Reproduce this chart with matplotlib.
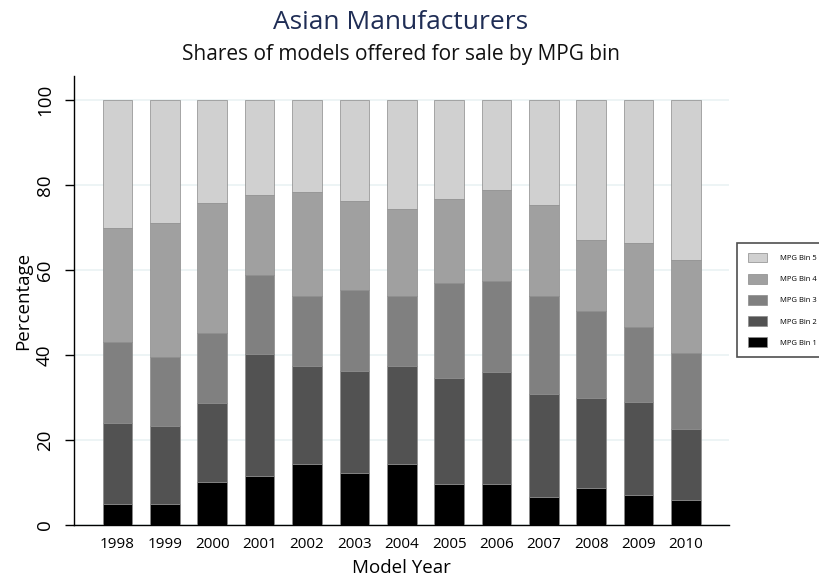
import matplotlib
matplotlib.use("Agg")
import matplotlib.pyplot as plt
import numpy as np

years = [1998, 1999, 2000, 2001, 2002, 2003, 2004, 2005, 2006, 2007, 2008, 2009, 2010]
bin1 = [4.9, 5.0, 10.2, 11.6, 14.4, 12.2, 14.4, 9.6, 9.6, 6.6, 8.8, 7.1, 5.9]
bin2 = [19.2, 18.4, 18.6, 28.6, 23.0, 24.1, 23.0, 25.1, 26.4, 24.2, 21.1, 21.9, 16.6]
bin3 = [19.0, 16.2, 16.5, 18.6, 16.5, 19.0, 16.5, 22.2, 21.4, 23.1, 20.5, 17.7, 18.0]
bin4 = [26.9, 31.5, 30.5, 18.8, 24.5, 20.9, 20.4, 19.8, 21.4, 21.4, 16.7, 19.7, 21.8]
bin5 = [30.0, 28.9, 24.2, 22.4, 21.6, 23.8, 25.7, 23.3, 21.2, 24.7, 32.9, 33.6, 37.7]
labels = ["MPG Bin 1", "MPG Bin 2", "MPG Bin 3", "MPG Bin 4", "MPG Bin 5"]
colors = ["#000000", "#525252", "#808080", "#a0a0a0", "#d0d0d0"]

plt.rcParams['font.family'] = ['Open Sans', 'DejaVu Sans']

fig = plt.figure(figsize=(8.2, 5.82), dpi=100)
ax = fig.add_axes([0.0902, 0.0979, 0.889 - 0.0902, 0.869 - 0.0979])

series = [bin1, bin2, bin3, bin4, bin5]
bottom = np.zeros(len(years))
handles = []
for vals, lab, col in zip(series, labels, colors):
    b = ax.bar(years, vals, bottom=bottom, width=0.625, color=col,
               edgecolor="#8a8a8a", linewidth=0.5, label=lab, zorder=3)
    handles.append(b)
    bottom += np.array(vals)

ax.set_xlim(1997.08, 2010.91)
ax.set_ylim(0, 105.6)
ax.set_yticks([0, 20, 40, 60, 80, 100])
ax.set_xticks(years)
ax.set_xticklabels([str(y) for y in years], fontsize=11)
ax.tick_params(axis='x', length=0, pad=8.5)
ax.tick_params(axis='y', length=6.5, width=1, labelsize=13.5, pad=8)
for t in ax.get_yticklabels():
    t.set_rotation(90)
    t.set_va('center')
ax.yaxis.grid(True, color="#eaf2f3", linewidth=1.2, zorder=0)
ax.set_axisbelow(True)
for s in ['top', 'right']:
    ax.spines[s].set_visible(False)
ax.spines['left'].set_linewidth(1)
ax.spines['bottom'].set_linewidth(1)

ax.set_xlabel("Model Year", fontsize=13.5, labelpad=5)
ax.set_ylabel("Percentage", fontsize=13.5, labelpad=3)

fig.text(0.489, 0.962, "Asian Manufacturers", ha='center', va='center',
         fontsize=19, color="#1f2d55")
fig.text(0.489, 0.907, "Shares of models offered for sale by MPG bin", ha='center',
         va='center', fontsize=15, color="#111111")

fs = 5.5
leg = fig.legend(handles[::-1], labels[::-1], loc='upper left',
                 bbox_to_anchor=(737.5 / 820, 1 - 242.5 / 582),
                 fontsize=fs, frameon=True, fancybox=False,
                 handlelength=2.5, handleheight=1.57, handletextpad=1.7,
                 labelspacing=1.5, borderpad=1.35, borderaxespad=0)
leg.get_frame().set_edgecolor("#222222")
leg.get_frame().set_linewidth(1.2)

fig.savefig("out.png", dpi=100)
